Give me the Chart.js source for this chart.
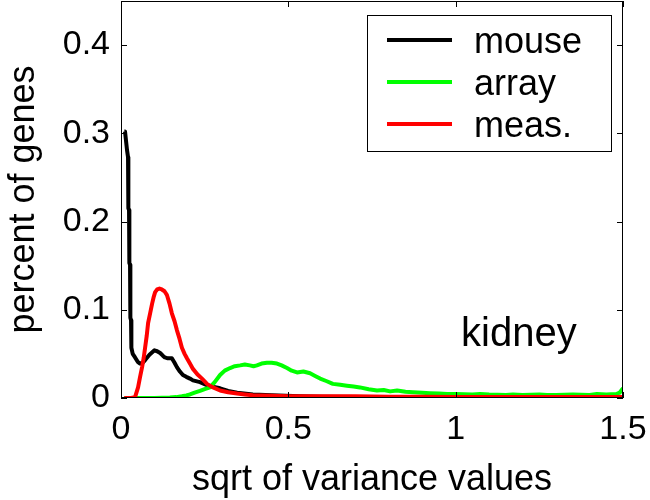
<!DOCTYPE html>
<html><head><meta charset="utf-8">
<script src="https://cdn.jsdelivr.net/npm/chart.js@4"></script>
<style>html,body{margin:0;padding:0;background:#fff;}</style>
</head><body>
<canvas id="c" width="650" height="500"></canvas>
<script>
const seriesNames = ['mouse', 'array', 'meas.'];
const seriesColors = ['#000000', '#00ff00', '#ff0000'];

const mouseX = [0.01, 0.012, 0.018, 0.021, 0.022, 0.024, 0.025, 0.027, 0.028, 0.030, 0.031, 0.035, 0.042, 0.050, 0.057, 0.065, 0.072, 0.085, 0.100, 0.108, 0.117, 0.125, 0.131, 0.140, 0.152, 0.160, 0.167, 0.176, 0.185, 0.195, 0.206, 0.215, 0.236, 0.26, 0.296, 0.32, 0.347, 0.394, 0.45, 0.535, 0.6, 0.7, 0.8, 0.9, 1.0, 1.1, 1.2, 1.3, 1.4, 1.5];
const mouseY = [0.302, 0.302, 0.281, 0.273, 0.215, 0.213, 0.153, 0.151, 0.091, 0.088, 0.057, 0.050, 0.046, 0.041, 0.039, 0.040, 0.043, 0.049, 0.054, 0.053, 0.051, 0.048, 0.046, 0.045, 0.045, 0.040, 0.035, 0.030, 0.026, 0.024, 0.022, 0.020, 0.018, 0.014, 0.011, 0.008, 0.006, 0.004, 0.003, 0.002, 0.0015, 0.001, 0.001, 0.001, 0.001, 0.001, 0.001, 0.001, 0.001, 0.001];

const arrayX = [0.01, 0.1, 0.146, 0.165, 0.182, 0.195, 0.206, 0.22, 0.236, 0.25, 0.266, 0.28, 0.296, 0.31, 0.326, 0.34, 0.356, 0.37, 0.385, 0.396, 0.406, 0.42, 0.436, 0.45, 0.466, 0.48, 0.496, 0.51, 0.526, 0.545, 0.565, 0.58, 0.595, 0.615, 0.633, 0.655, 0.675, 0.695, 0.714, 0.74, 0.765, 0.785, 0.804, 0.825, 0.85, 0.872, 0.9, 0.923, 0.95, 0.974, 1.0, 1.05, 1.073, 1.1, 1.15, 1.171, 1.2, 1.25, 1.273, 1.3, 1.35, 1.4, 1.422, 1.45, 1.48, 1.49, 1.5];
const arrayY = [0, 0, 0.0005, 0.001, 0.002, 0.003, 0.004, 0.006, 0.008, 0.010, 0.012, 0.018, 0.026, 0.031, 0.034, 0.036, 0.037, 0.038, 0.037, 0.036, 0.037, 0.039, 0.040, 0.040, 0.039, 0.037, 0.034, 0.031, 0.029, 0.030, 0.028, 0.025, 0.022, 0.019, 0.016, 0.015, 0.014, 0.013, 0.012, 0.010, 0.0085, 0.009, 0.0075, 0.0085, 0.007, 0.0065, 0.006, 0.0055, 0.005, 0.0045, 0.0045, 0.004, 0.0045, 0.004, 0.0035, 0.004, 0.0035, 0.004, 0.0035, 0.0035, 0.004, 0.0035, 0.0045, 0.004, 0.0045, 0.006, 0.011];

const measX = [0.01, 0.03, 0.042, 0.051, 0.057, 0.063, 0.068, 0.072, 0.077, 0.081, 0.087, 0.093, 0.098, 0.102, 0.108, 0.115, 0.122, 0.130, 0.137, 0.145, 0.152, 0.160, 0.167, 0.175, 0.182, 0.190, 0.197, 0.206, 0.215, 0.228, 0.242, 0.257, 0.275, 0.296, 0.32, 0.347, 0.37, 0.394, 0.45, 0.5, 0.6, 0.7, 0.8, 0.9, 1.0, 1.1, 1.2, 1.3, 1.4, 1.5];
const measY = [0, 0, 0.001, 0.012, 0.024, 0.035, 0.046, 0.057, 0.071, 0.085, 0.096, 0.107, 0.115, 0.120, 0.123, 0.124, 0.123, 0.121, 0.117, 0.107, 0.096, 0.087, 0.077, 0.067, 0.057, 0.050, 0.045, 0.039, 0.033, 0.027, 0.022, 0.016, 0.012, 0.0085, 0.0065, 0.005, 0.004, 0.003, 0.0025, 0.002, 0.002, 0.002, 0.0015, 0.0015, 0.001, 0.001, 0.001, 0.001, 0.001, 0.001];

const xTicks = [0, 0.5, 1, 1.5];
const xTickLabels = ['0', '0.5', '1', '1.5'];
const yTicks = [0, 0.1, 0.2, 0.3, 0.4];
const yTickLabels = ['0', '0.1', '0.2', '0.3', '0.4'];
const xTitle = 'sqrt of variance values';
const yTitle = 'percent of genes';
const panelLabel = 'kidney';

const FONT = "'Liberation Sans', Arial, Helvetica, sans-serif";

function pts(xs, ys) { return xs.map((x, i) => ({x: x, y: ys[i]})); }

const framePlugin = {
  id: 'frameTicks',
  afterDatasetsDraw(chart) {
    const {ctx, chartArea: a, scales} = chart;
    const sx = scales.x, sy = scales.y;
    ctx.save();
    ctx.strokeStyle = '#000';
    ctx.lineWidth = 1;
    ctx.strokeRect(a.left + 0.5, a.top + 0.5, a.right - a.left - 1, a.bottom - a.top - 1);
    const L = 6;
    ctx.beginPath();
    xTicks.forEach(v => {
      const px = Math.round(sx.getPixelForValue(v)) + 0.5;
      ctx.moveTo(px, a.bottom); ctx.lineTo(px, a.bottom - L);
      ctx.moveTo(px, a.top); ctx.lineTo(px, a.top + L);
    });
    yTicks.forEach(v => {
      const py = Math.round(sy.getPixelForValue(v)) + 0.5;
      ctx.moveTo(a.left, py); ctx.lineTo(a.left + L, py);
      ctx.moveTo(a.right, py); ctx.lineTo(a.right - L, py);
    });
    ctx.stroke();

    // legend box
    const bx = a.right - 256, by = a.top + 14, bw = 244, bh = 136;
    ctx.fillStyle = '#fff';
    ctx.fillRect(bx, by, bw, bh);
    ctx.strokeRect(bx + 0.5, by + 0.5, bw, bh);
    ctx.font = '36px ' + FONT;
    ctx.textBaseline = 'alphabetic';
    ctx.textAlign = 'left';
    chart.data.datasets.forEach((ds, i) => {
      const ly = by + 25 + i * 42;
      ctx.beginPath();
      ctx.strokeStyle = ds.borderColor;
      ctx.lineWidth = 4;
      ctx.moveTo(bx + 20, ly); ctx.lineTo(bx + 85, ly);
      ctx.stroke();
      ctx.fillStyle = '#000';
      ctx.fillText(ds.label, bx + 107, by + 38 + i * 42);
    });

    // panel label
    ctx.font = '40px ' + FONT;
    ctx.fillStyle = '#000';
    ctx.fillText(panelLabel, sx.getPixelForValue(1.016), sy.getPixelForValue(0.0595));
    ctx.restore();
  }
};

new Chart(document.getElementById('c'), {
  type: 'line',
  data: {
    datasets: [
      {label: seriesNames[0], data: pts(mouseX, mouseY), borderColor: seriesColors[0], order: 3},
      {label: seriesNames[1], data: pts(arrayX, arrayY), borderColor: seriesColors[1], order: 2},
      {label: seriesNames[2], data: pts(measX, measY), borderColor: seriesColors[2], order: 1}
    ]
  },
  options: {
    responsive: false,
    animation: false,
    devicePixelRatio: 1,
    layout: {padding: {top: 1, right: 27, left: 0, bottom: 0}},
    elements: {
      line: {borderWidth: 4, tension: 0, borderJoinStyle: 'round', borderCapStyle: 'butt', fill: false},
      point: {radius: 0, hoverRadius: 0}
    },
    datasets: {line: {clip: 0}},
    plugins: {legend: {display: false}, tooltip: {enabled: false}},
    scales: {
      x: {
        type: 'linear', min: 0, max: 1.5,
        afterBuildTicks: s => { s.ticks = xTicks.map(v => ({value: v})); },
        afterFit: s => { s.height = 102; s.paddingLeft = 0; s.paddingRight = 0; s.paddingTop = 0; s.paddingBottom = 0; },
        grid: {display: false, drawTicks: false},
        border: {display: false},
        ticks: {
          autoSkip: false, maxRotation: 0, padding: 11, color: '#000',
          font: {family: FONT, size: 34},
          callback: (v) => xTickLabels[xTicks.indexOf(v)]
        },
        title: {display: true, text: xTitle, color: '#000', font: {family: FONT, size: 36, lineHeight: 1}, padding: {top: 0, bottom: 1.5}}
      },
      y: {
        type: 'linear', min: 0, max: 0.45,
        afterBuildTicks: s => { s.ticks = yTicks.map(v => ({value: v})); },
        afterFit: s => { s.width = 121; s.paddingLeft = 0; s.paddingRight = 0; s.paddingTop = 0; s.paddingBottom = 0; },
        grid: {display: false, drawTicks: false},
        border: {display: false},
        ticks: {
          autoSkip: false, padding: 11, color: '#000',
          font: {family: FONT, size: 34},
          callback: (v) => yTickLabels[yTicks.indexOf(v)]
        },
        title: {display: true, text: yTitle, color: '#000', font: {family: FONT, size: 36, lineHeight: 1}, padding: {top: 6.5, bottom: 0}}
      }
    }
  },
  plugins: [framePlugin]
});
</script>
</body></html>
